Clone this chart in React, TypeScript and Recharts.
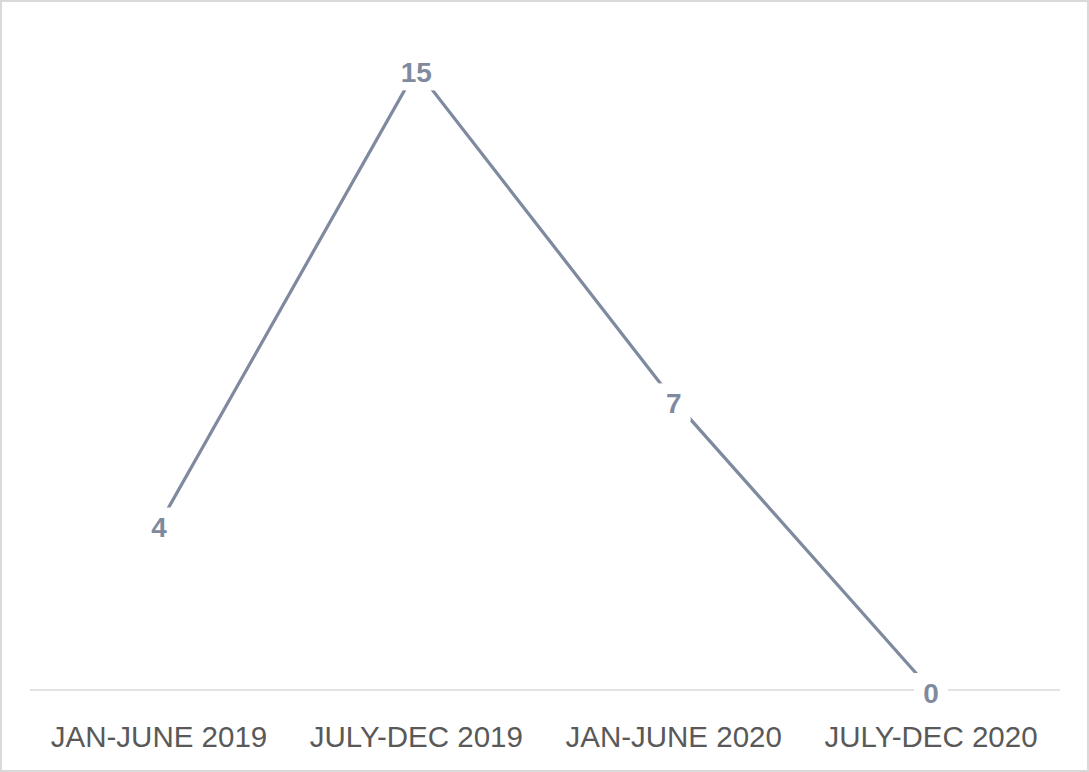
import React from "react";
import { LineChart, Line, XAxis, YAxis, LabelList } from "recharts";

const categories = ["JAN-JUNE 2019", "JULY-DEC 2019", "JAN-JUNE 2020", "JULY-DEC 2020"];
const values = [4, 15, 7, 0];

const data = categories.map((c, i) => ({ name: c, value: values[i] }));

const LINE_COLOR = "#7f8a9f";

const PointLabel = (props: any) => {
  const { x, y, value } = props;
  const s = String(value);
  const w = s.length * 16 + 18;
  const h = 38;
  return (
    <g>
      <rect x={x - w / 2} y={y - h / 2 + 2} width={w} height={h} fill="#ffffff" />
      <text
        x={x}
        y={y + 3}
        textAnchor="middle"
        dominantBaseline="central"
        fontFamily="'Liberation Sans', Arial, sans-serif"
        fontWeight="bold"
        fontSize={28}
        fill={LINE_COLOR}
      >
        {s}
      </text>
    </g>
  );
};

const Tick = (props: any) => {
  const { x, y, payload } = props;
  return (
    <text
      x={x}
      y={y}
      dy={49}
      textAnchor="middle"
      fontFamily="'Liberation Sans', Arial, sans-serif"
      fontSize={29.5}
      fill="#595959"
    >
      {payload.value}
    </text>
  );
};

export default function App() {
  return (
    <div style={{ position: "absolute", left: 0, top: 0, width: 1089, height: 772, background: "#fff" }}>
      <LineChart
        width={1089}
        height={772}
        data={data}
        margin={{ top: 28, right: 29, bottom: 22, left: 30 }}
      >
        <XAxis
          dataKey="name"
          axisLine={{ stroke: "#d9d9d9", strokeWidth: 1.5 }}
          tickLine={false}
          height={60}
          tick={<Tick />}
          interval={0}
          padding={{ left: 129, right: 129 }}
        />
        <YAxis hide domain={[0, 16]} />
        <Line
          type="linear"
          dataKey="value"
          stroke={LINE_COLOR}
          strokeWidth={3.25}
          dot={false}
          isAnimationActive={false}
        >
          <LabelList dataKey="value" content={<PointLabel />} />
        </Line>
      </LineChart>
      <div
        style={{
          position: "absolute",
          left: 0,
          top: 0,
          width: 1089,
          height: 772,
          boxSizing: "border-box",
          border: "2px solid #d9d9d9",
          pointerEvents: "none",
        }}
      />
    </div>
  );
}
